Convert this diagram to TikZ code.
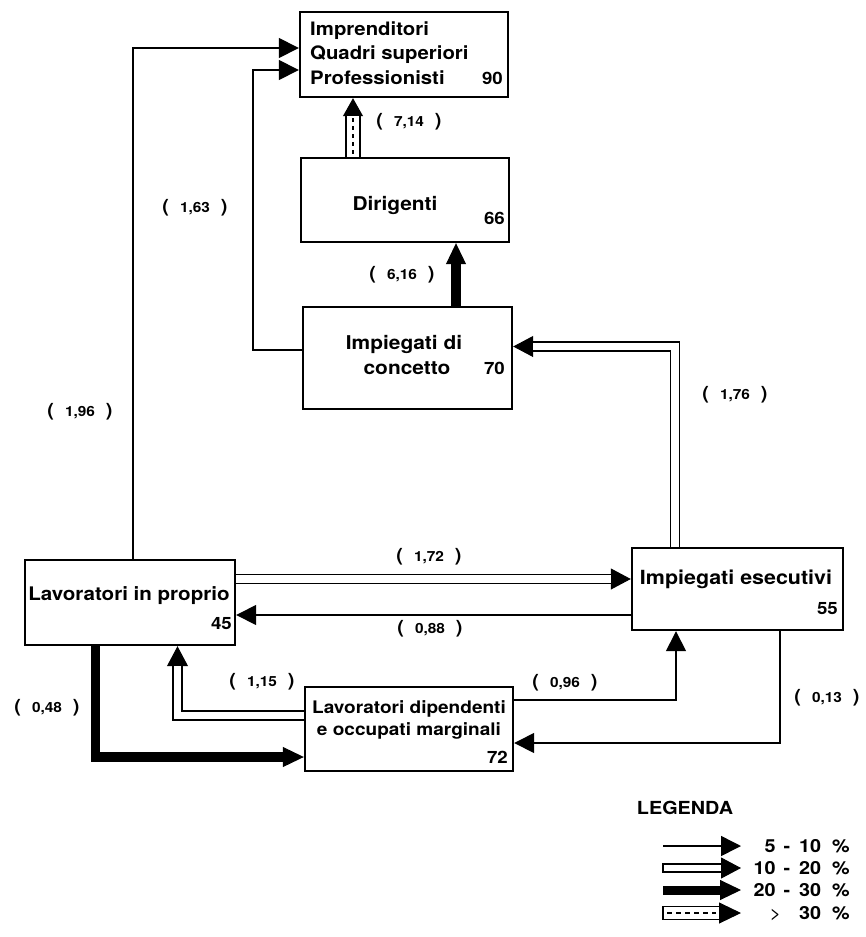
\documentclass[tikz,border=0pt]{standalone}
\usepackage{fontspec}
\setmainfont{TeX Gyre Heros}[FakeStretch=1.1,BoldFeatures={FakeStretch=1.1}]
\usetikzlibrary{arrows.meta,backgrounds}
\newcommand{\fsz}[1]{\fontsize{#1}{#1}\selectfont}
\newcommand{\flab}[1]{{\fsz{18}(}\hspace{11pt}{\fsz{14}#1}\hspace{11pt}{\fsz{18})}}
\begin{document}
\begin{tikzpicture}[x=1pt,y=-1pt,font=\bfseries,
  box/.style={draw,line width=2.4pt,fill=white,inner sep=0pt},
  txt/.style={inner sep=0pt,anchor=base},
  num/.style={inner sep=0pt,anchor=base east,font=\bfseries\fsz{17}},
  lbl/.style={inner sep=0pt},
  arrT/.style={line width=1.5pt,-{Triangle[length=20pt,width=20pt]}},
  tipH/.style={line width=1pt,-{Triangle[length=20pt,width=21pt]}},
  shaftH/.style={double,line width=1.7pt,double distance=7.5pt,shorten >=19.7pt},
  tipK/.style={line width=1pt,-{Triangle[length=21pt,width=20pt]}},
  shaftK/.style={line width=9.5pt,shorten >=20.7pt},
]
\useasboundingbox (0,0) rectangle (866,937);

% boxes
\node[box,minimum width=208pt,minimum height=85pt] (top) at (404,54.5) {};
\node[box,minimum width=208pt,minimum height=84pt] (dg) at (405,200) {};
\node[box,minimum width=209pt,minimum height=102pt] (cc) at (407.5,358) {};
\node[box,minimum width=210pt,minimum height=85pt] (lp) at (130,602.5) {};
\node[box,minimum width=211pt,minimum height=82pt] (ie) at (737.5,589) {};
\node[box,minimum width=208pt,minimum height=84pt] (ld) at (409,729) {};

% box texts
\node[txt,anchor=base west,font=\bfseries\fsz{18.5}] (t1) at (310,35) {Imprenditori};
\node[txt,anchor=base west,font=\bfseries\fsz{18.5}] (t2) at (310,59) {Quadri superiori};
\node[txt,anchor=base west,font=\bfseries\fsz{18.5}] (t3) at (310,84) {Professionisti};
\node[num] (n90) at (503,84) {90};
\node[txt,font=\bfseries\fsz{19}] (t4) at (395,210) {Dirigenti};
\node[num] (n66) at (505,224) {66};
\node[txt,font=\bfseries\fsz{19}] (t5) at (404,349) {Impiegati di};
\node[txt,font=\bfseries\fsz{19}] (t6) at (407,374) {concetto};
\node[num] (n70) at (505,374) {70};
\node[txt,font=\bfseries\fsz{18.7}] (t7) at (129,600) {Lavoratori in proprio};
\node[num] (n45) at (232,629) {45};
\node[txt,font=\bfseries\fsz{19.5}] (t8) at (736,584) {Impiegati esecutivi};
\node[num] (n55) at (838,614) {55};
\node[txt,font=\bfseries\fsz{17.3}] (t9) at (409,713) {Lavoratori dipendenti};
\node[txt,font=\bfseries\fsz{17.3}] (t10) at (409,735) {e occupati marginali};
\node[num] (n72) at (508,763) {72};

% flow labels
\node[lbl] (l714) at (409,122) {\flab{7,14}};
\node[lbl] (l616) at (402,275) {\flab{6,16}};
\node[lbl] (l163) at (195,208) {\flab{1,63}};
\node[lbl] (l196) at (80,412) {\flab{1,96}};
\node[lbl] (l176) at (735,395) {\flab{1,76}};
\node[lbl] (l172) at (429,557) {\flab{1,72}};
\node[lbl] (l088) at (430,629) {\flab{0,88}};
\node[lbl] (l115) at (262,682) {\flab{1,15}};
\node[lbl] (l096) at (565,683) {\flab{0,96}};
\node[lbl] (l013) at (827,698) {\flab{0,13}};
\node[lbl] (l048) at (47,708) {\flab{0,48}};

% legend texts
\node[txt,font=\bfseries\fsz{18}] (leg) at (685,814) {LEGENDA};
\node[txt,anchor=base east,font=\bfseries\fsz{18}] (g1t) at (850,852) {5\hspace{8pt}-\hspace{9pt}10\hspace{11pt}\%};
\node[txt,anchor=base east,font=\bfseries\fsz{18}] (g2t) at (850,874) {10\hspace{8pt}-\hspace{9pt}20\hspace{11pt}\%};
\node[txt,anchor=base east,font=\bfseries\fsz{18}] (g3t) at (850,896) {20\hspace{8pt}-\hspace{9pt}30\hspace{11pt}\%};
\node[txt,anchor=base east,font=\bfseries\fsz{18}] (g4t) at (850,919) {{\mdseries >}\hspace{18pt}30\hspace{11pt}\%};

\begin{pgfonlayer}{background}
\fill[white] (0,0) rectangle (866,937);

% 1,96
\coordinate (a196) at (133,48);
\draw[arrT] (lp.north -| a196) |- (top.west |- a196);
% 1,63
\coordinate (k163) at (253,350);
\coordinate (j163) at (253,70);
\draw[arrT] (cc.west |- k163) -- (k163) |- (top.west |- j163);
% 7,14
\coordinate (a714) at (353,0);
\draw[line width=1pt,-{Triangle[length=18pt,width=20pt]}] (dg.north -| a714) -- (top.south -| a714);
\draw[double,line width=2pt,double distance=12pt,shorten >=17.7pt] (dg.north -| a714) -- (top.south -| a714);
\draw[line width=1.6pt,dash pattern=on 4pt off 4pt,shorten >=20pt,shorten <=3pt] (dg.north -| a714) -- (top.south -| a714);
% 6,16
\coordinate (a616) at (456,0);
\draw[tipK] (cc.north -| a616) -- (dg.south -| a616);
\draw[shaftK] (cc.north -| a616) -- (dg.south -| a616);
% 1,76
\coordinate (a176) at (675,346.5);
\draw[tipH] (ie.north -| a176) |- (cc.east |- a176);
\draw[shaftH] (ie.north -| a176) |- (cc.east |- a176);
% 1,72
\coordinate (a172) at (0,579);
\draw[tipH] (lp.east |- a172) -- (ie.west |- a172);
\draw[shaftH] (lp.east |- a172) -- (ie.west |- a172);
% 0,88
\coordinate (a088) at (0,615);
\draw[arrT] (ie.west |- a088) -- (lp.east |- a088);
% 0,48
\coordinate (a048) at (95.5,757);
\draw[tipK] (lp.south -| a048) |- (ld.west |- a048);
\draw[shaftK] (lp.south -| a048) |- (ld.west |- a048);
% 1,15
\coordinate (a115) at (177.5,715.5);
\draw[tipH] (ld.west |- a115) -| (lp.south -| a115);
\draw[shaftH] (ld.west |- a115) -| (lp.south -| a115);
% 0,96
\coordinate (a096) at (676,700);
\draw[arrT] (ld.east |- a096) -| (ie.south -| a096);
% 0,13
\coordinate (a013) at (780,743);
\draw[arrT] (ie.south -| a013) |- (ld.east |- a013);

% legend arrows
\coordinate (g1a) at (663,846); \coordinate (g1b) at (741,846);
\draw[arrT] (g1a) -- (g1b);
\coordinate (g2a) at (663,868); \coordinate (g2b) at (741,868);
\draw[tipH] (g2a) -- (g2b);
\draw[line width=1.6pt,fill=white] (663,864) rectangle (721.5,872);
\coordinate (g3a) at (663,890); \coordinate (g3b) at (741,890);
\draw[tipK] (g3a) -- (g3b);
\draw[shaftK,line width=9pt] (g3a) -- (g3b);
\coordinate (g4a) at (663,913); \coordinate (g4b) at (741,913);
\draw[line width=1pt,-{Triangle[length=22pt,width=21pt]}] (g4a) -- (g4b);
\draw[line width=1.8pt,fill=white] (663,906.5) rectangle (719.5,919.5);
\draw[line width=1.4pt,dash pattern=on 5pt off 4pt] (667,913) -- (716,913);
\end{pgfonlayer}
\end{tikzpicture}
\end{document}
